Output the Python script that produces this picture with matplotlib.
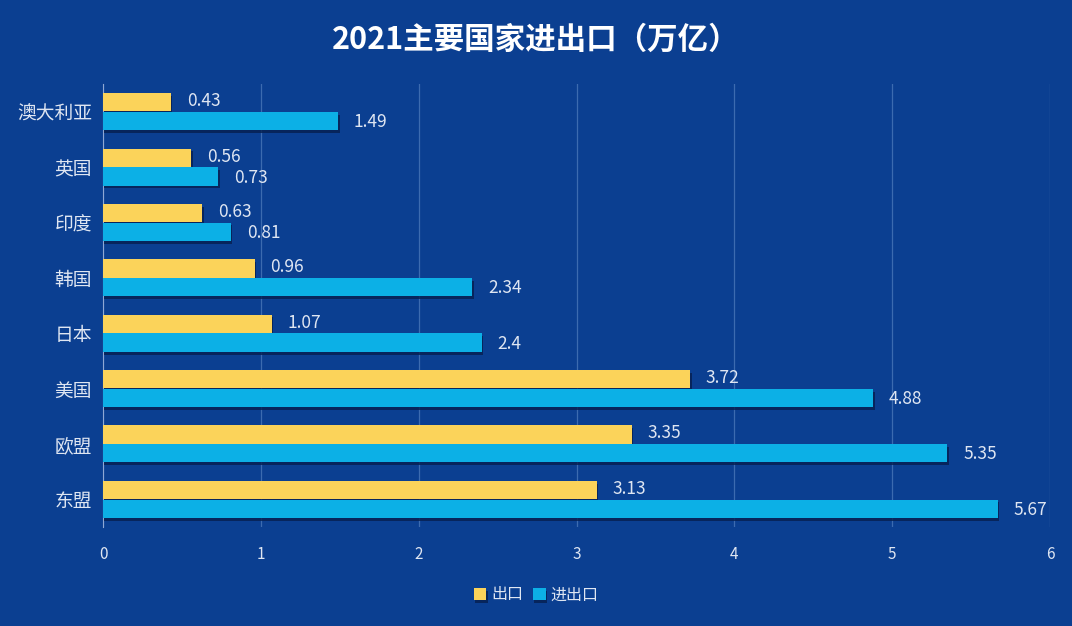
import numpy as np
import matplotlib.pyplot as plt
import matplotlib.patheffects as pe

plt.rcParams['font.family'] = ['Noto Sans CJK SC', 'DejaVu Sans']

# data, top to bottom as in the picture
countries = ['澳大利亚', '英国', '印度', '韩国', '日本', '美国', '欧盟', '东盟']
export = [0.43, 0.56, 0.63, 0.96, 1.07, 3.72, 3.35, 3.13]
trade = [1.49, 0.73, 0.81, 2.34, 2.4, 4.88, 5.35, 5.67]
xticks = [0, 1, 2, 3, 4, 5, 6]

bg = '#0b3f91'
yellow = '#fbd35a'
blue = '#0cb0e6'
txt = '#dfe6f2'

fig = plt.figure(figsize=(10.72, 6.26), dpi=100, facecolor=bg)
ax = fig.add_axes([103 / 1072, 1 - 527 / 626, 947 / 1072, 443 / 626])
ax.set_facecolor(bg)

y = np.arange(len(countries))
h = 0.33
shadow = [pe.SimplePatchShadow(offset=(1, -2), shadow_rgbFace='#061f4f', alpha=0.8), pe.Normal()]

b1 = ax.barh(y - 0.17, export, height=h, color=yellow, label='出口', zorder=3)
b2 = ax.barh(y + 0.17, trade, height=h, color=blue, label='进出口', zorder=3)
for b in list(b1) + list(b2):
    b.set_path_effects(shadow)

for yi, v in zip(y, export):
    ax.text(v + 0.1, yi - 0.19, f'{v:g}', va='center', ha='left', color=txt, fontsize=12.5)
for yi, v in zip(y, trade):
    ax.text(v + 0.1, yi + 0.19, f'{v:g}', va='center', ha='left', color=txt, fontsize=12.5)

ax.set_ylim(len(countries) - 0.5, -0.5)
ax.set_xlim(0, 6)
ax.set_xticks(xticks)
ax.set_yticks(y)
ax.set_yticklabels(countries, fontsize=13.5, color=txt)
ax.tick_params(axis='x', colors=txt, labelsize=11, length=0, pad=14)
ax.tick_params(axis='y', length=0, pad=8)
ax.grid(axis='x', color='#3c6bb0', linewidth=0.9, zorder=0)
for s in ['top', 'right', 'bottom']:
    ax.spines[s].set_visible(False)
ax.spines['left'].set_color('#8fa8d4')
ax.spines['left'].set_linewidth(0.8)

fig.suptitle('2021主要国家进出口（万亿）', y=1 - 40 / 626, va='center',
             fontsize=22, fontweight='bold', color='white')

leg = fig.legend(handles=[b1, b2], loc='center', bbox_to_anchor=(0.5, 1 - 595 / 626),
                 ncol=2, frameon=False, fontsize=11.5, handlelength=0.8, handleheight=0.8,
                 handletextpad=0.3, columnspacing=0.6)
for t in leg.get_texts():
    t.set_color(txt)

fig.savefig('out.png', dpi=100, facecolor=bg)
